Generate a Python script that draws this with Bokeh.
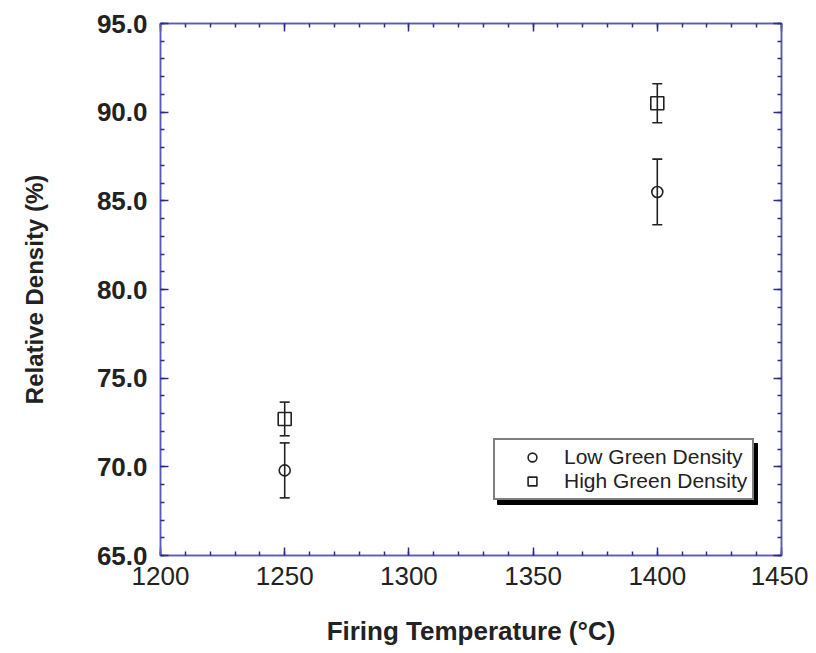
from bokeh.plotting import figure
from bokeh.models import (ColumnDataSource, Whisker, TeeHead, Legend, LegendItem, BoxAnnotation,
                          LinearAxis, SingleIntervalTicker, PrintfTickFormatter, Range1d)
from bokeh.embed import file_html
from bokeh.resources import INLINE

# Data
temperatures = [1250, 1400]
low_density = [69.8, 85.5]
low_error = [1.55, 1.85]
high_density = [72.7, 90.5]
high_error = [0.95, 1.1]
series_labels = ["Low Green Density", "High Green Density"]

FONT = "Liberation Sans"
FRAME_BLUE = "#5a5ab8"
TICK_BLUE = "#2c2c86"
INK = "#222222"

p = figure(frame_width=621, frame_height=532, output_backend="svg", toolbar_location=None,
           x_range=Range1d(1200, 1450), y_range=Range1d(65, 95),
           min_border_left=160, min_border_right=27, min_border_top=23, min_border_bottom=89,
           x_axis_location=None, y_axis_location=None)
p.grid.visible = False
p.outline_line_color = FRAME_BLUE
p.outline_line_width = 1.5
p.background_fill_color = "white"
p.border_fill_color = "white"


def make_axis(kind, side, labels):
    if kind == "x":
        ticker = SingleIntervalTicker(interval=50, num_minor_ticks=5)
    else:
        ticker = SingleIntervalTicker(interval=5, num_minor_ticks=5)
    ax = LinearAxis(ticker=ticker)
    ax.axis_line_color = FRAME_BLUE
    ax.axis_line_width = 1.5
    ax.major_tick_line_color = TICK_BLUE
    ax.minor_tick_line_color = TICK_BLUE
    ax.major_tick_line_width = 1.5
    ax.minor_tick_line_width = 1.5
    ax.major_tick_in = 8
    ax.major_tick_out = 0
    ax.minor_tick_in = 4
    ax.minor_tick_out = 0
    if not labels:
        ax.major_label_text_font_size = "0px"
        ax.major_label_text_color = None
    p.add_layout(ax, side)
    return ax


xb = make_axis("x", "below", True)
xb.major_label_text_font = FONT
xb.major_label_text_font_size = "26px"
xb.major_label_text_color = INK
xb.major_label_standoff = 11
xb.axis_label = "Firing Temperature (°C)"
xb.axis_label_text_font = FONT
xb.axis_label_text_font_style = "bold"
xb.axis_label_text_font_size = "26px"
xb.axis_label_text_color = INK
xb.axis_label_standoff = 28

yl = make_axis("y", "left", True)
yl.formatter = PrintfTickFormatter(format="%.1f")
yl.major_label_text_font = FONT
yl.major_label_text_font_style = "bold"
yl.major_label_text_font_size = "26px"
yl.major_label_text_color = INK
yl.major_label_standoff = 13
yl.axis_label = "Relative Density (%)"
yl.axis_label_text_font = FONT
yl.axis_label_text_font_style = "bold"
yl.axis_label_text_font_size = "24px"
yl.axis_label_text_color = INK
yl.axis_label_standoff = 46

make_axis("x", "above", False)
make_axis("y", "right", False)

src_low = ColumnDataSource(dict(
    x=temperatures, y=low_density,
    upper=[v + e for v, e in zip(low_density, low_error)],
    lower=[v - e for v, e in zip(low_density, low_error)]))
src_high = ColumnDataSource(dict(
    x=temperatures, y=high_density,
    upper=[v + e for v, e in zip(high_density, high_error)],
    lower=[v - e for v, e in zip(high_density, high_error)]))

for src in (src_low, src_high):
    w = Whisker(source=src, base="x", upper="upper", lower="lower", dimension="height",
                line_color=INK, line_width=1.6,
                upper_head=TeeHead(size=10, line_color=INK, line_width=1.6),
                lower_head=TeeHead(size=10, line_color=INK, line_width=1.6))
    p.add_layout(w)

r_low = p.scatter("x", "y", source=src_low, marker="circle", size=11,
                  fill_color=None, line_color=INK, line_width=1.6)
r_high = p.scatter("x", "y", source=src_high, marker="square", size=13,
                   fill_color=None, line_color=INK, line_width=1.6)

# legend geometry (screen px, relative to frame bottom-left)
LEG_X, LEG_Y = 333, 55
LEG_W, LEG_H = 260, 61
PAD, GLYPH_W, STANDOFF = 5, 64, 0
SHADOW = 4

# drop shadow behind the legend box
shadow = BoxAnnotation(left=LEG_X + SHADOW, right=LEG_X + LEG_W + SHADOW,
                       bottom=LEG_Y - SHADOW, top=LEG_Y + LEG_H - SHADOW,
                       left_units="screen", right_units="screen",
                       bottom_units="screen", top_units="screen",
                       fill_color="black", fill_alpha=1.0, line_color="black", line_alpha=1.0,
                       level="overlay")
p.add_layout(shadow)

items = [LegendItem(label=series_labels[0], renderers=[r_low]),
         LegendItem(label=series_labels[1], renderers=[r_high])]
lg = Legend(items=items, location=(LEG_X, LEG_Y), orientation="vertical")
lg.label_text_font = FONT
lg.label_text_font_size = "21px"
lg.label_text_color = INK
lg.padding = PAD
lg.margin = 0
lg.spacing = 0
lg.glyph_width = GLYPH_W
lg.glyph_height = 22
lg.label_height = 22
lg.label_standoff = STANDOFF
lg.border_line_color = "black"
lg.border_line_width = 2
lg.background_fill_color = "white"
lg.background_fill_alpha = 1.0
p.add_layout(lg, "center")

open("out.html", "w").write(file_html(p, INLINE))
